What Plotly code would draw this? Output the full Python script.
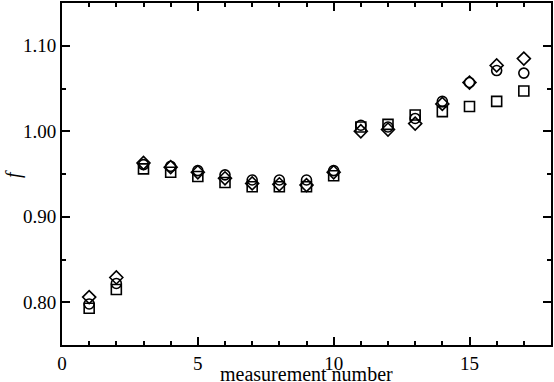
import plotly.graph_objects as go

# ── DATA ──────────────────────────────────────────────────────────────────────

MEASUREMENT = list(range(1, 18))

F_CIRCLE = [0.798, 0.822, 0.961, 0.959, 0.954, 0.949, 0.943, 0.943, 0.943,
            0.954, 1.007, 1.005, 1.015, 1.035, 1.057, 1.071, 1.068]
F_SQUARE = [0.793, 0.815, 0.956, 0.952, 0.947, 0.940, 0.935, 0.935, 0.935,
            0.948, 1.005, 1.008, 1.019, 1.023, 1.029, 1.035, 1.047]
F_DIAMOND = [0.806, 0.829, 0.963, 0.958, 0.952, 0.945, 0.939, 0.938, 0.937,
             0.952, 1.000, 1.002, 1.009, 1.032, 1.057, 1.077, 1.085]

SERIES = [
    ("circle-open", F_CIRCLE),
    ("square-open", F_SQUARE),
    ("diamond-open", F_DIAMOND),
]

FONT = "Liberation Serif"

# ── PLOT ──────────────────────────────────────────────────────────────────────

fig = go.Figure()

for symbol, values in SERIES:
    fig.add_trace(go.Scatter(
        x=MEASUREMENT,
        y=values,
        mode="markers",
        marker=dict(symbol=symbol, size=10, color="black", line=dict(color="black", width=1.6)),
        showlegend=False,
    ))

axis_common = dict(
    showline=True,
    linecolor="black",
    linewidth=2,
    mirror="allticks",
    ticks="inside",
    ticklen=8,
    tickwidth=1.5,
    tickcolor="black",
    showgrid=False,
    zeroline=False,
    tickfont=dict(family=FONT, size=19, color="black"),
)

fig.update_xaxes(
    range=[0, 18],
    tickvals=[0, 5, 10, 15],
    minor=dict(dtick=1, ticks="inside", ticklen=4, tickwidth=1.5, tickcolor="black"),
    **axis_common,
)
fig.update_yaxes(
    range=[0.75, 1.15],
    tickvals=[0.8, 0.9, 1.0, 1.1],
    ticktext=["0.80", "0.90", "1.00", "1.10"],
    minor=dict(tickvals=[0.85, 0.95, 1.05], ticks="inside", ticklen=4, tickwidth=1.5,
               tickcolor="black"),
    **axis_common,
)

# axis titles as annotations so the bottom one can hang off the edge like the original
fig.add_annotation(
    text="measurement number", xref="paper", yref="paper", x=0.5, y=-0.086,
    xanchor="center", yanchor="middle", showarrow=False,
    font=dict(family=FONT, size=20, color="black"),
)
fig.add_annotation(
    text="<i>f</i>", xref="paper", yref="paper", x=-0.1, y=0.5,
    xanchor="center", yanchor="middle", showarrow=False, textangle=-90,
    font=dict(family=FONT, size=20, color="black"),
)

fig.update_layout(
    width=554,
    height=382,
    margin=dict(l=62, r=2, t=1, b=37),
    paper_bgcolor="white",
    plot_bgcolor="white",
)

# drop the page's default body margin so the figure sits at the window corner
fig.write_html(
    "out.html",
    config={"displayModeBar": False},
    post_script="document.body.style.margin='0';",
)
